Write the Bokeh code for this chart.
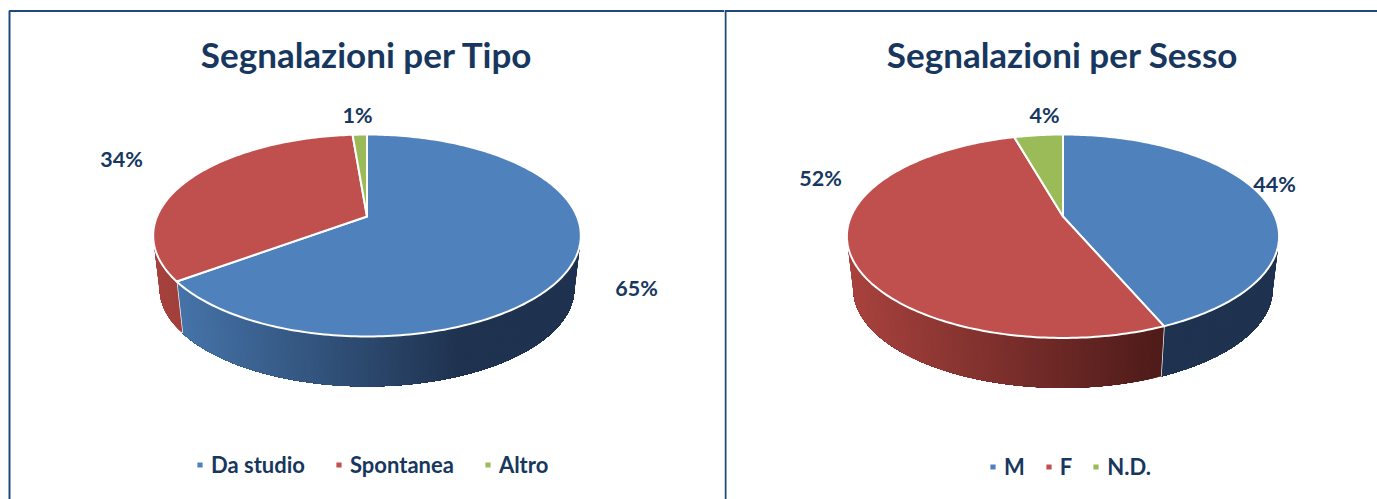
import numpy as np
from bokeh.plotting import figure
from bokeh.layouts import row
from bokeh.models import Legend, LegendItem
from bokeh.core.properties import value
from bokeh.embed import file_html
from bokeh.resources import INLINE

tipo_title = "Segnalazioni per Tipo"
tipo_labels = ["Da studio", "Spontanea", "Altro"]
tipo_values = [64.9, 33.8, 1.3]

sesso_title = "Segnalazioni per Sesso"
sesso_labels = ["M", "F", "N.D."]
sesso_values = [43.6, 52.0, 4.4]

BLUE, RED, GREEN = "#4F81BD", "#C0504D", "#9BBB59"
INK = "#17375E"
RULE = "#1F497D"
FONT = "Lato"
SLICE_COLORS = [BLUE, RED, GREEN]


def hex2rgb(c):
    return np.array([int(c[i:i + 2], 16) for i in (1, 3, 5)], float)


def ramp(x, x0, x1, c0, c1):
    t = np.clip((x - x0) / (x1 - x0), 0, 1)
    r = hex2rgb(c0) * (1 - t) + hex2rgb(c1) * t
    return "#%02x%02x%02x" % tuple(int(round(v)) for v in r)


def project(theta, cx, y0, a, b, k, s=1.0, dy=0.0):
    u, v = np.sin(theta), -np.cos(theta)
    d = 1 - k * v
    return cx + s * a * u / d, y0 + dy + s * b * v / d


def pie(p, values, labels, geom, wall_ramps, label_pos, legend_xy, legend_gap):
    cx, y0, a, b, k = geom
    s, dy = 0.97, 53.5
    total = sum(values)
    edges = np.cumsum([0] + list(values)) / total * 2 * np.pi
    # side walls first: each strip runs on to the slice's end, so no seams show
    for i in range(len(values)):
        lo, hi = max(edges[i], np.radians(60)), min(edges[i + 1], np.radians(300))
        if hi <= lo:
            continue
        n = max(2, int((hi - lo) / np.radians(0.7)))
        th = np.linspace(lo, hi, n + 1)
        xs, ys, cols = [], [], []
        for t0 in th[:-1]:
            arc = np.linspace(t0, hi, max(2, int((hi - t0) / np.radians(1)) + 2))
            xa, ya = project(arc, *geom)
            xb, yb = project(arc[::-1], *geom, s, dy)
            xs.append(np.r_[xa, xb])
            ys.append(np.r_[ya, yb])
            cols.append(ramp(xa[0], *wall_ramps[i]))
        p.patches(xs, ys, fill_color=cols, line_color=None)
        if np.radians(100) < edges[i + 1] < np.radians(260):
            x0_, y0_ = project(edges[i + 1], *geom)
            x1_, y1_ = project(edges[i + 1], *geom, s, dy)
            p.line([x0_, x1_], [y0_, y1_], line_color="white", line_width=1.4)
    # top face
    items = []
    for i, lab in enumerate(labels):
        th = np.linspace(edges[i], edges[i + 1], max(4, int((edges[i + 1] - edges[i]) / np.radians(1)) + 1))
        x, y = project(th, *geom)
        xs = np.r_[cx, x, cx]
        ys = np.r_[y0, y, y0]
        r = p.patch(xs, ys, fill_color=SLICE_COLORS[i], line_color="white", line_width=2, line_join="round")
        items.append(LegendItem(label=lab, renderers=[r]))
    # data labels
    texts = ["%d%%" % round(v) for v in values]
    p.text(label_pos[0], label_pos[1], text=texts, text_font=value(FONT), text_font_style="bold",
           text_font_size="21.5px", text_color=INK, text_align="center", text_baseline="middle")
    leg = Legend(items=items, orientation="horizontal", location=legend_xy, glyph_width=9,
                 glyph_height=9, label_standoff=7, spacing=legend_gap, padding=0, margin=0, border_line_alpha=0,
                 background_fill_alpha=0, label_text_font=FONT, label_text_font_style="bold",
                 label_text_font_size="22px", label_text_color=INK, label_width=0)
    p.add_layout(leg)


def panel(width, x0, x1):
    p = figure(width=width, height=499, x_range=(x0, x1), y_range=(499, 0), output_backend="svg",
               toolbar_location=None, min_border=0)
    p.axis.visible = False
    p.grid.visible = False
    p.outline_line_color = None
    p.background_fill_color = "white"
    return p


left = panel(724, 0, 724)
left.line([9, 9, 724], [499, 10.5, 10.5], line_color=RULE, line_width=2)
left.text([366.5], [53], text=[tipo_title], text_font=value(FONT), text_font_style="bold", text_font_size="35px",
          text_color=INK, text_align="center", text_baseline="middle")
pie(left, tipo_values, tipo_labels, (366.5, 216, 210, 97.4, 0.188),
    [(180, 460, "#4573A8", "#1F3350"), (150, 190, "#A8423E", "#9C3F3B"), (0, 1, GREEN, GREEN)],
    ([636, 121, 357], [287, 158, 114]), (195, 21), 29)

right = panel(653, 724, 1377)
right.line([725, 725], [499, 10.5], line_color=RULE, line_width=2)
right.line([724, 1377], [10.5, 10.5], line_color=RULE, line_width=2)
right.text([1062], [53], text=[sesso_title], text_font=value(FONT), text_font_style="bold", text_font_size="35px",
           text_color=INK, text_align="center", text_baseline="middle")
pie(right, sesso_values, sesso_labels, (1062.5, 216, 212, 97.9, 0.194),
    [(0, 1, "#1F3350", "#1F3350"), (850, 1155, "#A8423E", "#501C1A"), (0, 1, GREEN, GREEN)],
    ([1274, 820, 1044], [183, 177, 114]), (264, 19), 19)

open("out.html", "w").write(file_html(row(left, right), INLINE))
